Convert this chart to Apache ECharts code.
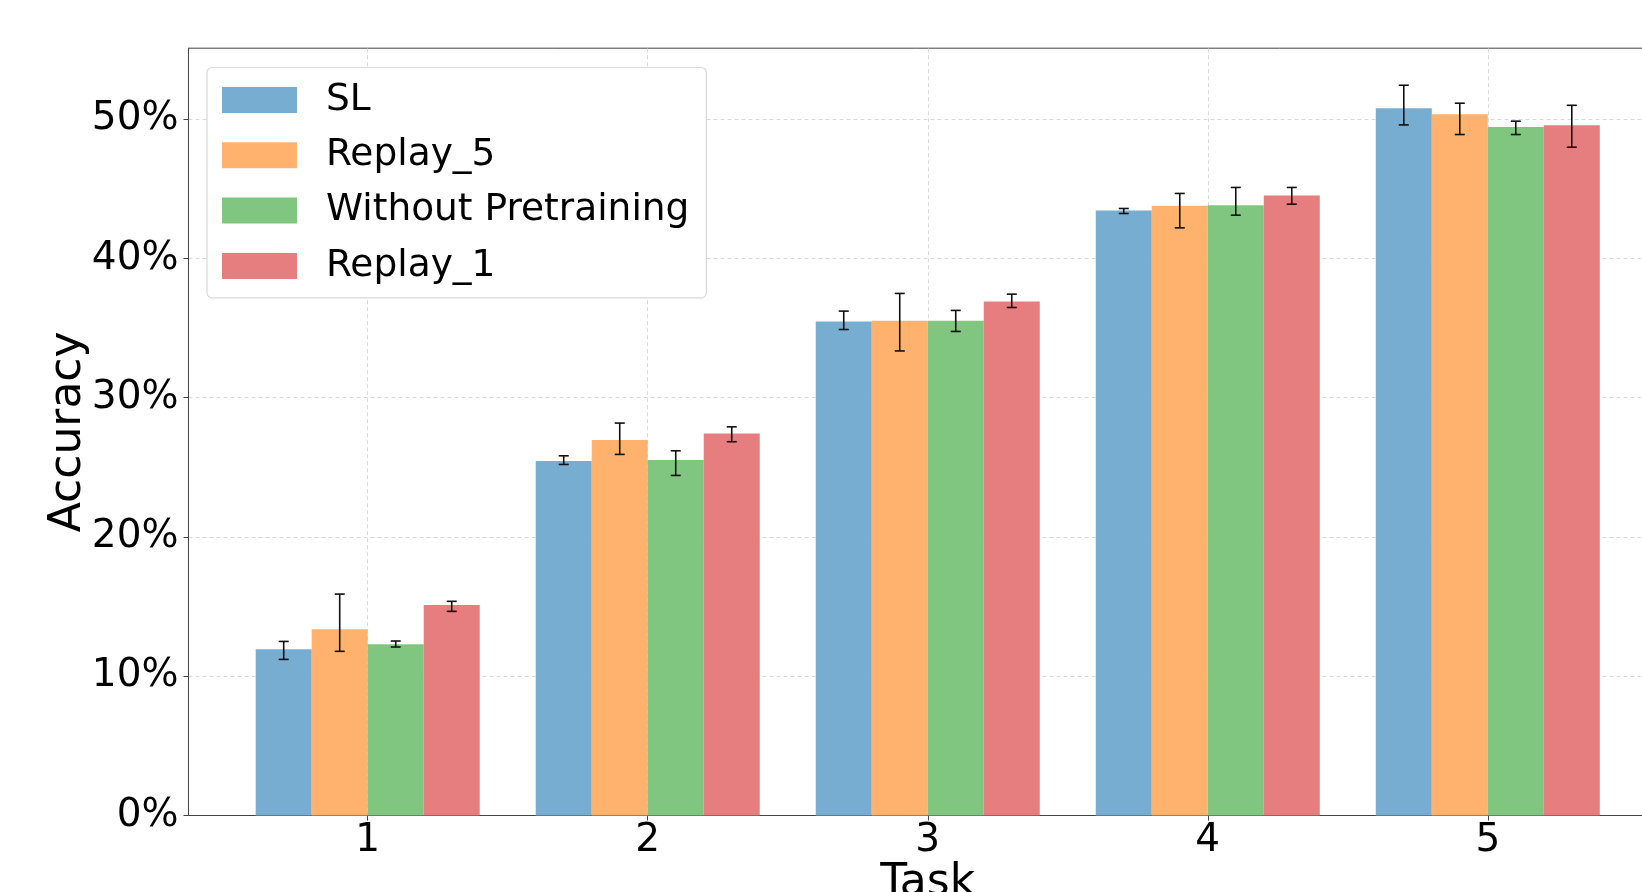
<!DOCTYPE html>
<html>
<head>
<meta charset="utf-8">
<script src="https://cdn.jsdelivr.net/npm/echarts@6/dist/echarts.min.js"></script>
<style>
html,body{margin:0;padding:0;background:#fff;}
#chart{width:1642px;height:892px;}
</style>
</head>
<body>
<div id="chart"></div>
<script>
const tasks = [1, 2, 3, 4, 5];
const seriesNames = ['SL', 'Replay_5', 'Without Pretraining', 'Replay_1'];
const seriesColors = ['#78add2', '#ffb26e', '#80c680', '#e67d7e'];

const SL      = [11.93, 25.45, 35.47, 43.44, 50.79];
const SL_lo   = [11.21, 25.21, 34.90, 43.23, 49.59];
const SL_hi   = [12.50, 25.83, 36.22, 43.59, 52.44];

const R5      = [13.37, 26.96, 35.52, 43.78, 50.36];
const R5_lo   = [11.79, 25.93, 33.36, 42.20, 48.90];
const R5_hi   = [15.90, 28.18, 37.49, 44.67, 51.15];

const WP      = [12.29, 25.52, 35.52, 43.83, 49.45];
const WP_lo   = [12.10, 24.42, 34.76, 43.11, 48.90];
const WP_hi   = [12.53, 26.19, 36.27, 45.10, 49.86];

const R1      = [15.11, 27.44, 36.91, 44.52, 49.57];
const R1_lo   = [14.66, 26.84, 36.48, 43.90, 47.99];
const R1_hi   = [15.38, 27.91, 37.44, 45.10, 51.00];

const yTicks = [0, 10, 20, 30, 40, 50];

const allMeans = [SL, R5, WP, R1];
const allLo = [SL_lo, R5_lo, WP_lo, R1_lo];
const allHi = [SL_hi, R5_hi, WP_hi, R1_hi];
const offsets = [-0.3, -0.1, 0.1, 0.3];
const barW = 0.2;
const FONT = 'DejaVu Sans';

function makeRender(k) {
  return function (params, api) {
    const x = api.value(0) + offsets[k];
    const v = api.value(1), lo = api.value(2), hi = api.value(3);
    const pTL = api.coord([x - barW / 2, v]);
    const pBR = api.coord([x + barW / 2, 0]);
    const pHi = api.coord([x, hi]);
    const pLo = api.coord([x, lo]);
    const cap = 5;
    const es = { stroke: '#111', lineWidth: 1.6 };
    return {
      type: 'group',
      children: [
        { type: 'rect', shape: { x: pTL[0], y: pTL[1], width: pBR[0] - pTL[0], height: pBR[1] - pTL[1] },
          style: { fill: seriesColors[k] } },
        { type: 'line', z2: 10, shape: { x1: pHi[0], y1: pHi[1], x2: pLo[0], y2: pLo[1] }, style: es },
        { type: 'line', z2: 10, shape: { x1: pHi[0] - cap, y1: pHi[1], x2: pHi[0] + cap, y2: pHi[1] }, style: es },
        { type: 'line', z2: 10, shape: { x1: pLo[0] - cap, y1: pLo[1], x2: pLo[0] + cap, y2: pLo[1] }, style: es }
      ]
    };
  };
}

const series = seriesNames.map((name, k) => ({
  name: name,
  type: 'custom',
  renderItem: makeRender(k),
  itemStyle: { color: seriesColors[k] },
  encode: { x: 0, y: 1 },
  data: tasks.map((t, i) => [t, allMeans[k][i], allLo[k][i], allHi[k][i]]),
  z: 3
}));

const chart = echarts.init(document.getElementById('chart'), null, { renderer: 'canvas' });
chart.setOption({
  animation: false,
  backgroundColor: '#fff',
  grid: {
    left: 188.5, top: 48.2, right: -25, bottom: 76.5,
    show: true, borderColor: '#444', borderWidth: 1,
    outerBoundsMode: 'none', containLabel: false
  },
  legend: {
    left: 207, top: 67.5,
    orient: 'vertical',
    icon: 'rect',
    itemWidth: 75, itemHeight: 26, itemGap: 17.3,
    padding: [13.5, 17, 13, 15],
    backgroundColor: '#fff',
    borderColor: '#d9d9d9', borderWidth: 1.2, borderRadius: 5,
    textStyle: { fontFamily: FONT, fontSize: 37.5, color: '#000', padding: [0, 0, 0, 24] },
    data: seriesNames
  },
  xAxis: {
    type: 'value',
    min: 0.36, max: 5.64,
    name: 'Task', nameLocation: 'middle', nameGap: 46, nameMoveOverlap: false,
    nameTextStyle: { fontFamily: FONT, fontSize: 44, color: '#000' },
    axisLine: { show: true, lineStyle: { color: '#444', width: 1 } },
    axisTick: { show: true, customValues: tasks, length: 5, lineStyle: { color: '#444' } },
    axisLabel: { customValues: tasks, fontFamily: FONT, fontSize: 39, color: '#000', margin: 6,
      formatter: v => String(v) },
    splitLine: { show: true, lineStyle: { color: '#cfcfcf', type: [4, 3], width: 0.8 } }
  },
  yAxis: {
    type: 'value',
    min: 0, max: 55.1, interval: 10,
    name: 'Accuracy', nameLocation: 'middle', nameGap: 98, nameMoveOverlap: false,
    nameTextStyle: { fontFamily: FONT, fontSize: 44, color: '#000' },
    axisLine: { show: true, lineStyle: { color: '#444', width: 1 } },
    axisTick: { show: true, customValues: yTicks, length: 5, lineStyle: { color: '#444' } },
    axisLabel: { customValues: yTicks, fontFamily: FONT, fontSize: 39, color: '#000', margin: 10,
      formatter: v => v + '%' },
    splitLine: { show: true, lineStyle: { color: '#cfcfcf', type: [4, 3], width: 0.8 } }
  },
  series: series
});
</script>
</body>
</html>
